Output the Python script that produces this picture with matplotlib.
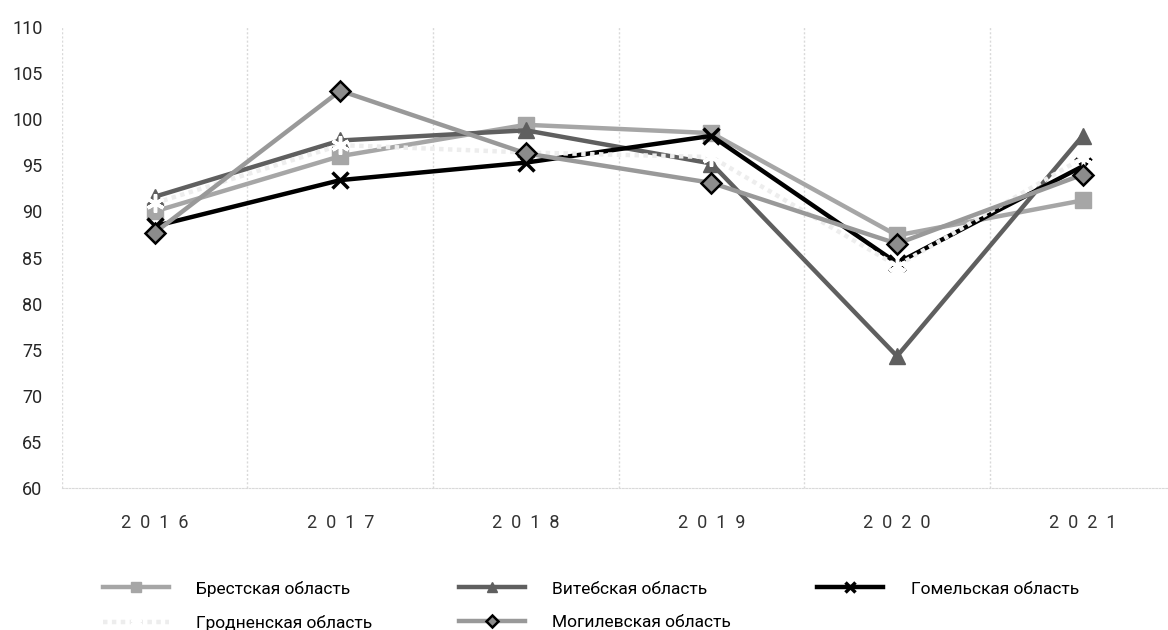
import numpy as np
import matplotlib.pyplot as plt
from matplotlib.ticker import FixedLocator

plt.rcParams['font.family'] = ['Roboto', 'DejaVu Sans']

# Data
years = ['2016', '2017', '2018', '2019', '2020', '2021']
brest = [90.0, 96.0, 99.4, 98.5, 87.4, 91.2]
vitebsk = [91.6, 97.7, 98.8, 95.2, 74.3, 98.2]
gomel = [88.4, 93.4, 95.3, 98.2, 84.4, 94.9]
grodno = [90.9, 97.2, 96.4, 95.9, 84.1, 95.8]
mogilev = [87.7, 103.1, 96.3, 93.1, 86.5, 94.0]

x = np.arange(len(years))

fig = plt.figure(figsize=(11.68, 6.30), dpi=100)
ax = fig.add_axes([0.053, 0.2254, 0.947, 0.7316])

l_brest, = ax.plot(x, brest, color='#a6a6a6', lw=3.2, marker='s', ms=12,
                   mfc='#a6a6a6', mec='#a6a6a6', label='Брестская область')
l_vit, = ax.plot(x, vitebsk, color='#5f5f5f', lw=3.2, marker='^', ms=12,
                 mfc='#5f5f5f', mec='#5f5f5f', label='Витебская область')
l_gom, = ax.plot(x, gomel, color='black', lw=3.2, marker='x', ms=12, mew=2.5,
                 label='Гомельская область')
l_grod, = ax.plot(x, grodno, color='#ededed', lw=3.2, ls=(0, (1, 1)),
                  marker=(6, 2, 0), ms=13, mew=2.5, mec='white',
                  label='Гродненская область')
l_mog, = ax.plot(x, mogilev, color='#999999', lw=3.2, marker='D', ms=10,
                 mfc='#8c8c8c', mec='black', mew=1.8, label='Могилевская область')

ax.set_xlim(-0.5, 5.46)
ax.set_ylim(60, 110)
ax.set_yticks(np.arange(60, 111, 5))
ax.set_xticks(x)
ax.set_xticklabels(['  '.join(y) for y in years])
ax.xaxis.set_minor_locator(FixedLocator(np.arange(-0.5, 5.0, 1.0)))
ax.grid(axis='x', which='minor', color='#d9d9d9', ls=(0, (1.5, 1.5)), lw=1)
ax.tick_params(axis='both', which='both', length=0)
ax.tick_params(axis='y', labelsize=13, labelcolor='#262626', pad=14)
ax.tick_params(axis='x', labelsize=13, labelcolor='#333333', pad=19)

for side in ['top', 'right', 'left']:
    ax.spines[side].set_visible(False)
ax.spines['bottom'].set_color('#d9d9d9')
ax.spines['bottom'].set_linestyle((0, (1.5, 1.5)))

handles = [l_brest, l_grod, l_vit, l_mog, l_gom]
fig.legend(handles=handles, labels=[h.get_label() for h in handles],
           ncol=3, loc='lower left', bbox_to_anchor=(0.0745, -0.026),
           frameon=False, fontsize=12.5, handlelength=3.8, handletextpad=1.6,
           columnspacing=4.95, labelspacing=1.05, markerscale=0.6)

fig.savefig('out.png', dpi=100)
